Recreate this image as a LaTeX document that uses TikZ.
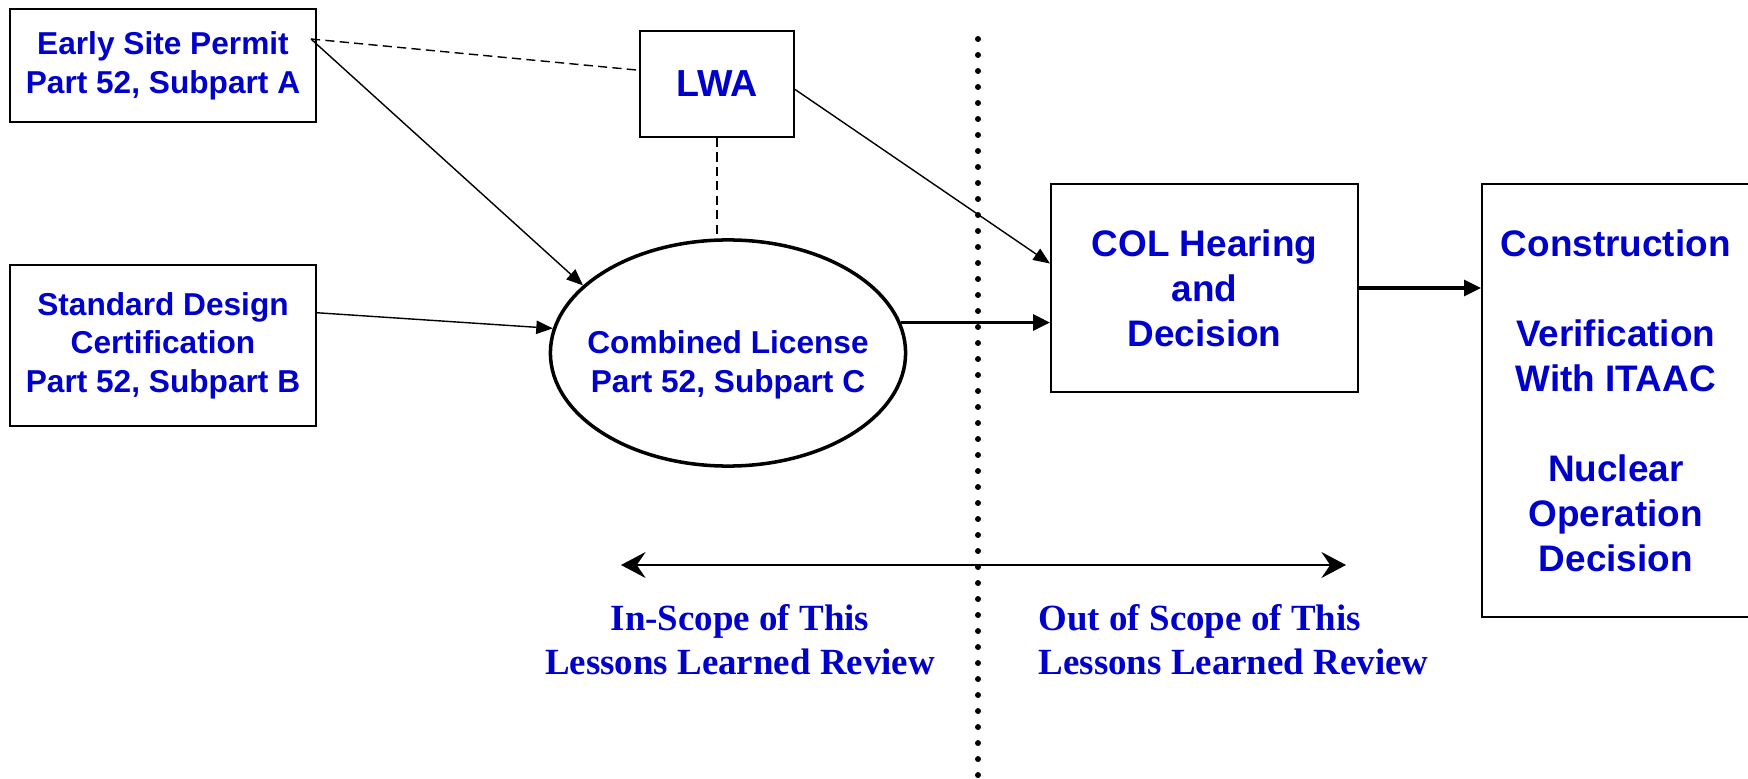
\documentclass[tikz,border=0pt]{standalone}
\usepackage{fontspec}
\setmainfont{Liberation Serif}
\setsansfont{Liberation Sans}
\usetikzlibrary{arrows.meta,shapes.geometric}
\definecolor{nrcblue}{RGB}{0,0,204}

\begin{document}
\begin{tikzpicture}[x=0.01cm, y=-0.01cm,
    txt/.style={align=center, inner sep=0pt, text=nrcblue,
      font=\sffamily\bfseries\fontsize{9pt}{11pt}\selectfont},
    permitbox/.style={txt, draw, line width=.55pt},
    bigbox/.style={permitbox, font=\sffamily\bfseries\fontsize{10.5pt}{12.8pt}\selectfont},
    reviewtxt/.style={txt, font=\rmfamily\bfseries\fontsize{10.5pt}{12.5pt}\selectfont},
    flow/.style={line width=.4pt, -{Triangle[length=4.7pt,width=3.8pt]}},
    mainflow/.style={line width=.9pt, -{Triangle[length=4.8pt,width=4.5pt]}},
    link/.style={line width=.4pt, dash pattern=on 2.6pt off 1.5pt}]
        \useasboundingbox (0,0) rectangle (1748,779);
        % licensing steps
        \node[permitbox, minimum width=3.06cm, minimum height=1.13cm] (esp) at (163,65.5) {Early Site Permit\\Part 52, Subpart A};
        \node[bigbox, font=\sffamily\bfseries\fontsize{10.7pt}{12pt}\selectfont, minimum width=1.54cm, minimum height=1.06cm] (lwa) at (717,84) {LWA};
        \node[permitbox, minimum width=3.06cm, minimum height=1.61cm] (sdc) at (163,345.5) {Standard Design\\Certification\\Part 52, Subpart B};
        \node[draw, ellipse, line width=1pt, minimum width=3.55cm, minimum height=2.26cm, inner sep=0pt] (col) at (728,353) {};
        \node[txt] (coltext) at ([yshift=-0.12cm]col.center) {Combined License\\Part 52, Subpart C};
        \node[bigbox, minimum width=3.07cm, minimum height=2.08cm] (hearing) at (1204.5,288) {COL Hearing\\and\\Decision};
        \node[bigbox, minimum width=2.675cm, minimum height=4.33cm] (build) at (1615.75,400.5) {Construction\\[12.8pt]Verification\\With ITAAC\\[12.8pt]Nuclear\\Operation\\Decision};
        \coordinate (espout) at (311,39);
        \coordinate (divtop) at (978,39);
        \coordinate (divbot) at (978,779);
        \coordinate (scopel) at (621,565);
        \coordinate (scoper) at (1346,565);
        % connectors
        \draw[link] (espout) -- (lwa.170);
        \draw[flow] (espout) -- (col.155);
        \draw[flow] (sdc.12) -- (col.172);
        \draw[link] (lwa.south) -- (lwa.south |- col.north);
        \draw[flow] (lwa.-4) -- (hearing.171);
        \draw[mainflow] (col.10) -- (col.10 -| hearing.west);
        \draw[mainflow] (hearing.east) -- (hearing.east -| build.west);
        % scope of the review
        \draw[line width=1.7pt, line cap=round, dash pattern=on 0pt off 4.55pt] (divtop) -- (divbot);
        \draw[line width=.6pt, {Stealth[length=7pt,width=7.4pt,inset=2.5pt]}-{Stealth[length=7pt,width=7.4pt,inset=2.5pt]}] (scopel) -- (scoper);
        \node[reviewtxt] (inscope) at (740,639.5) {In-Scope of This\\Lessons Learned Review};
        \node[reviewtxt, align=left, anchor=west] (outscope) at (1038,639.5) {Out of Scope of This\\Lessons Learned Review};
\end{tikzpicture}
\end{document}
